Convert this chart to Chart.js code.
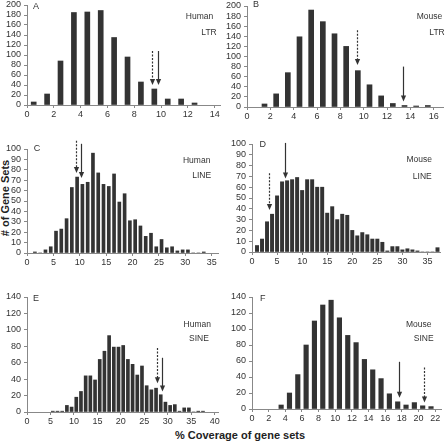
<!DOCTYPE html>
<html>
<head>
<meta charset="utf-8">
<script src="https://cdn.jsdelivr.net/npm/chart.js@4.4.0/dist/chart.umd.min.js"></script>
<style>
    html, body { margin: 0; padding: 0; background: #fff; }
    body { width: 445px; height: 442px; overflow: hidden; position: relative;
           font-family: "Liberation Sans", Arial, sans-serif; }
    canvas { position: absolute; }
    .lbl { position: absolute; transform: translate(-50%, -50%); white-space: nowrap;
           color: #333; font-size: 8.5px; line-height: 1; }
    .let { font-size: 9px; }
    .ttl { position: absolute; transform: translate(-50%, -50%); white-space: nowrap;
           font-weight: bold; font-size: 11px; color: #222; line-height: 1; }
</style>
</head>
<body>
<div class="ttl" style="left:5px;top:198px;transform:translate(-50%,-50%) rotate(-90deg);"># of Gene Sets</div>
<div class="ttl" style="left:240px;top:435px;">% Coverage of gene sets</div>
<script>
(function () {
    'use strict';

    // ── Data ─────────────────────────────────────────────────────
    const A_BINS   = [0.5, 1.5, 2.5, 3.5, 4.5, 5.5, 6.5, 7.5, 8.5, 9.5, 10.5, 11.5, 12.5];
    const A_COUNTS = [6, 22, 88, 185, 186, 189, 135, 96, 46, 32, 12, 12, 4];

    const B_BINS   = [1.5, 2.5, 3.5, 4.5, 5.5, 6.5, 7.5, 8.5, 9.5, 10.5, 11.5, 12.5, 13.5, 14.5, 15.5];
    const B_COUNTS = [6, 26, 68, 139, 192, 169, 145, 120, 72, 44, 22, 7, 3, 2, 3];

    const C_BINS   = [1.5, 2.5, 3.5, 4.5, 5.5, 6.5, 7.5, 8.5, 9.5, 10.5, 11.5, 12.5, 13.5, 14.5, 15.5, 16.5, 17.5,
                      18.5, 19.5, 20.5, 21.5, 22.5, 23.5, 24.5, 25.5, 26.5, 27.5, 28.5, 29.5, 30.5, 31.5, 32.5, 33.5];
    const C_COUNTS = [1, 0, 3, 6, 21, 23, 33, 63, 73, 66, 68, 96, 77, 66, 64, 76, 49,
                      57, 31, 32, 26, 16, 19, 6, 13, 5, 6, 2, 3, 3, 0, 0, 1];

    const D_BINS   = [1, 2, 3, 4, 5, 6, 7, 8, 9, 10, 11, 12, 13, 14, 15, 16, 17, 18, 19,
                      20, 21, 22, 23, 24, 25, 26, 27, 28, 29, 30, 31, 32, 33, 34, 35, 36, 37];
    const D_COUNTS = [6, 12, 28, 35, 52, 65, 66, 67, 69, 57, 67, 67, 60, 60, 36, 42, 30, 35, 34,
                      20, 15, 18, 16, 12, 12, 9, 1, 5, 5, 2, 3, 2, 1, 0, 0, 0, 4];

    const E_BINS   = [5.5, 6.5, 7.5, 8.5, 9.5, 10.5, 11.5, 12.5, 13.5, 14.5, 15.5, 16.5, 17.5, 18.5, 19.5, 20.5, 21.5,
                      22.5, 23.5, 24.5, 25.5, 26.5, 27.5, 28.5, 29.5, 30.5, 31.5, 32.5, 33.5, 34.5, 35.5, 36.5, 37.5];
    const E_COUNTS = [1, 1, 1, 8, 6, 18, 25, 44, 44, 39, 64, 74, 93, 79, 79, 81, 64,
                      58, 45, 56, 32, 27, 29, 21, 12, 8, 9, 1, 5, 5, 0, 1, 1];

    const F_BINS   = [3.5, 4.5, 5.5, 6.5, 7.5, 8.5, 9.5, 10.5, 11.5, 12.5, 13.5, 14.5, 15.5, 16.5, 17.5, 18.5, 19.5, 20.5, 21.5];
    const F_COUNTS = [5, 20, 43, 80, 110, 130, 136, 114, 92, 83, 62, 49, 38, 19, 9, 5, 8, 4, 3];

    // arrows: x position, start value, tip value (dash = dotted arrow)
    const A_ARROWS = [{ x: 9.36, from: 108, to: 40, dash: true }, { x: 9.8, from: 108, to: 40, dash: false }];
    const B_ARROWS = [{ x: 9.43, from: 152, to: 83, dash: true }, { x: 13.4, from: 80, to: 11, dash: false }];
    const C_ARROWS = [{ x: 9.3, from: 108, to: 77, dash: true }, { x: 10.2, from: 105, to: 72, dash: false }];
    const D_ARROWS = [{ x: 3.3, from: 73, to: 39, dash: true }, { x: 6.5, from: 101, to: 68, dash: false }];
    const E_ARROWS = [{ x: 27.8, from: 78, to: 35, dash: true }, { x: 28.8, from: 66, to: 25, dash: false }];
    const F_ARROWS = [{ x: 17.6, from: 59, to: 14, dash: false }, { x: 20.6, from: 52, to: 8, dash: true }];

    const PANEL_LETTERS = ['A', 'B', 'C', 'D', 'E', 'F'];
    const SPECIES       = ['Human', 'Mouse', 'Human', 'Mouse', 'Human', 'Mouse'];
    const FAMILIES      = ['LTR', 'LTR', 'LINE', 'LINE', 'SINE', 'SINE'];

    // ── Layout (page px) ─────────────────────────────────────────
    const PANELS = [
        { bins: A_BINS, counts: A_COUNTS, arrows: A_ARROWS, area: [27, 5, 220, 105],  xMax: 14.4, xStep: 2, yMax: 200, yStep: 20, bar: 5,
          letterAt: [36, 6],    spAt: [199.5, 16],  famAt: [209, 32] },
        { bins: B_BINS, counts: B_COUNTS, arrows: B_ARROWS, area: [247, 6, 443, 107], xMax: 16.8, xStep: 2, yMax: 200, yStep: 20, bar: 5,
          letterAt: [256, 4],   spAt: [429.5, 16],  famAt: [437, 32] },
        { bins: C_BINS, counts: C_COUNTS, arrows: C_ARROWS, area: [27, 149, 218, 253], xMax: 36.2, xStep: 5, yMax: 100, yStep: 10, bar: 3,
          letterAt: [37, 147.5], spAt: [196.7, 159.5], famAt: [201.7, 174.5] },
        { bins: D_BINS, counts: D_COUNTS, arrows: D_ARROWS, area: [252, 144, 440, 252], xMax: 37.5, xStep: 5, yMax: 100, yStep: 10, bar: 3.3,
          letterAt: [262.7, 144], spAt: [419.3, 159], famAt: [422.3, 176] },
        { bins: E_BINS, counts: E_COUNTS, arrows: E_ARROWS, area: [27, 297, 218, 412], xMax: 40.7, xStep: 5, yMax: 140, yStep: 20, bar: 3,
          letterAt: [36, 297.5], spAt: [197.3, 323.5], famAt: [199, 338] },
        { bins: F_BINS, counts: F_COUNTS, arrows: F_ARROWS, area: [252, 297, 441, 409], xMax: 22.7, xStep: 2, yMax: 140, yStep: 20, bar: 4.5,
          letterAt: [262.7, 297.5], spAt: [418.7, 323.5], famAt: [423.7, 338] },
    ];

    const Y_W = 30, X_H = 22, PAD_T = 10, PAD_R = 8;
    const INK = '#333', AXIS = '#888';
    const TICK_FONT = { family: 'Liberation Sans', size: 9 };

    function addText(text, at, cls) {
        const el = document.createElement('div');
        el.className = cls;
        el.textContent = text;
        el.style.left = at[0] + 'px';
        el.style.top = at[1] + 'px';
        document.body.appendChild(el);
    }

    function drawArrows(chart, list) {
        const { ctx, scales: { x, y } } = chart;
        list.forEach(a => {
            const px = Math.round(x.getPixelForValue(a.x)) + 0.5;
            const y0 = y.getPixelForValue(a.from);
            const y1 = y.getPixelForValue(a.to);
            ctx.save();
            ctx.strokeStyle = INK;
            ctx.fillStyle = INK;
            ctx.lineWidth = 1.2;
            ctx.setLineDash(a.dash ? [2, 1.5] : []);
            ctx.beginPath();
            ctx.moveTo(px, y0);
            ctx.lineTo(px, y1 - 5);
            ctx.stroke();
            ctx.setLineDash([]);
            ctx.beginPath();
            ctx.moveTo(px - 2.6, y1 - 6);
            ctx.lineTo(px + 2.6, y1 - 6);
            ctx.lineTo(px, y1);
            ctx.closePath();
            ctx.fill();
            ctx.restore();
        });
    }

    // every multiple of step up to max (Chart.js drops the last one when max is not a multiple)
    function stepTicks(step, max) {
        return s => {
            const out = [];
            for (let v = 0; v <= max + 1e-9; v += step) out.push({ value: v });
            s.ticks = out;
        };
    }

    function axisOpts(extra) {
        return Object.assign({
            grid:   { display: true, drawOnChartArea: false, drawTicks: true, tickLength: 3, color: AXIS, offset: false },
            border: { display: true, color: AXIS, width: 1 },
        }, extra);
    }

    function makePanel(p, i) {
        const [L, T, R, B] = p.area;
        const cv = document.createElement('canvas');
        const w = R - L + Y_W + PAD_R;
        const h = B - T + PAD_T + X_H;
        cv.width = w; cv.height = h;
        cv.style.width = w + 'px'; cv.style.height = h + 'px';
        cv.style.left = (L - Y_W) + 'px';
        cv.style.top = (T - PAD_T) + 'px';
        document.body.appendChild(cv);

        new Chart(cv, {
            type: 'bar',
            data: {
                datasets: [{
                    data: p.bins.map((b, k) => ({ x: b, y: p.counts[k] })),
                    backgroundColor: INK,
                    borderWidth: 0,
                    barThickness: p.bar,
                }],
            },
            options: {
                responsive: false,
                animation: false,
                devicePixelRatio: 1,
                layout: { padding: { top: PAD_T, right: PAD_R, left: 0, bottom: 0 } },
                plugins: { legend: { display: false }, tooltip: { enabled: false } },
                scales: {
                    x: axisOpts({
                        type: 'linear', min: 0, max: p.xMax, offset: false,
                        afterBuildTicks: stepTicks(p.xStep, p.xMax),
                        afterFit: s => { s.height = X_H; },
                        ticks: { color: INK, font: TICK_FONT, padding: 1, maxRotation: 0, autoSkip: false },
                    }),
                    y: axisOpts({
                        min: 0, max: p.yMax,
                        afterBuildTicks: stepTicks(p.yStep, p.yMax),
                        afterFit: s => { s.width = Y_W; },
                        ticks: { color: INK, font: TICK_FONT, padding: 3, autoSkip: false },
                    }),
                },
            },
            plugins: [{ id: 'arrows' + i, afterDatasetsDraw: chart => drawArrows(chart, p.arrows) }],
        });

        addText(PANEL_LETTERS[i], p.letterAt, 'lbl let');
        addText(SPECIES[i], p.spAt, 'lbl');
        addText(FAMILIES[i], p.famAt, 'lbl');
    }

    PANELS.forEach(makePanel);
})();
</script>
</body>
</html>
